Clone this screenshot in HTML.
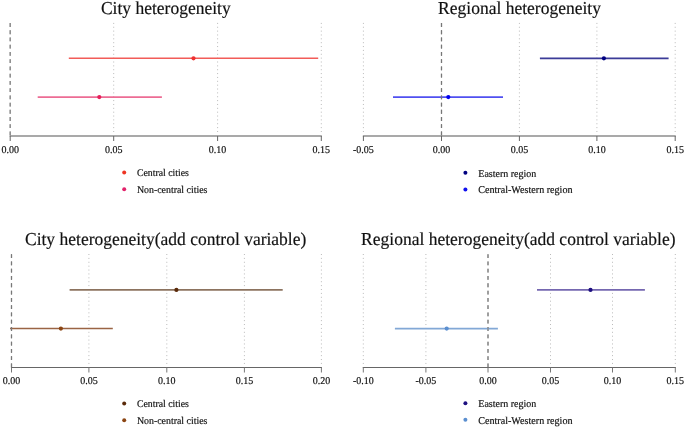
<!DOCTYPE html>
<html><head><meta charset="utf-8"><style>
html,body{margin:0;padding:0;background:#fff;}
svg{display:block;font-family:"Liberation Serif", serif;will-change:transform;text-rendering:geometricPrecision;}
text{fill:#111;stroke:#111;stroke-width:0.18px;}
</style></head><body>
<svg width="685" height="428" viewBox="0 0 685 428">
<rect width="685" height="428" fill="#fff"/>
<line x1="113.7" y1="22.9" x2="113.7" y2="134.5" stroke="#bababa" stroke-width="1" stroke-dasharray="1 2.86"/>
<line x1="217.6" y1="22.9" x2="217.6" y2="134.5" stroke="#bababa" stroke-width="1" stroke-dasharray="1 2.86"/>
<line x1="321.3" y1="22.9" x2="321.3" y2="134.5" stroke="#bababa" stroke-width="1" stroke-dasharray="1 2.86"/>
<line x1="10.2" y1="23.1" x2="10.2" y2="136.0" stroke="#8c8c8c" stroke-width="1.15" stroke-dasharray="3.8 3.43"/>
<line x1="68.8" y1="58.3" x2="318.2" y2="58.3" stroke="#f25c58" stroke-width="1.6"/>
<line x1="37.7" y1="97.1" x2="161.9" y2="97.1" stroke="#ec6c94" stroke-width="1.6"/>
<line x1="10.2" y1="23.1" x2="10.2" y2="136.0" stroke="#8c8c8c" stroke-width="1.15" stroke-dasharray="3.8 3.43"/>
<circle cx="193.5" cy="58.3" r="2.1" fill="#ee3030"/>
<circle cx="99.3" cy="97.1" r="2.1" fill="#e6205a"/>
<line x1="10.2" y1="136.0" x2="321.3" y2="136.0" stroke="#555" stroke-width="1.1" stroke-linecap="square"/>
<line x1="10.2" y1="136.0" x2="10.2" y2="141.0" stroke="#666" stroke-width="1"/>
<text transform="translate(10.2 152.6) scale(1 1.04)" text-anchor="middle" font-size="10">0.00</text>
<line x1="113.7" y1="136.0" x2="113.7" y2="141.0" stroke="#666" stroke-width="1"/>
<text transform="translate(113.7 152.6) scale(1 1.04)" text-anchor="middle" font-size="10">0.05</text>
<line x1="217.6" y1="136.0" x2="217.6" y2="141.0" stroke="#666" stroke-width="1"/>
<text transform="translate(217.6 152.6) scale(1 1.04)" text-anchor="middle" font-size="10">0.10</text>
<line x1="321.3" y1="136.0" x2="321.3" y2="141.0" stroke="#666" stroke-width="1"/>
<text transform="translate(321.3 152.6) scale(1 1.04)" text-anchor="middle" font-size="10">0.15</text>
<text transform="translate(165.8 14.3) scale(1 1.04)" text-anchor="middle" font-size="17.5">City heterogeneity</text>
<circle cx="124.2" cy="172.4" r="2.0" fill="#ee3322"/>
<text transform="translate(136.9 176.40) scale(1 1.04)" font-size="9.8">Central cities</text>
<circle cx="124.2" cy="189.2" r="2.0" fill="#e2226a"/>
<text transform="translate(136.9 193.20) scale(1 1.04)" font-size="9.9">Non-central cities</text>
<line x1="363.4" y1="22.9" x2="363.4" y2="134.5" stroke="#bababa" stroke-width="1" stroke-dasharray="1 2.86"/>
<line x1="519.4" y1="22.9" x2="519.4" y2="134.5" stroke="#bababa" stroke-width="1" stroke-dasharray="1 2.86"/>
<line x1="596.9" y1="22.9" x2="596.9" y2="134.5" stroke="#bababa" stroke-width="1" stroke-dasharray="1 2.86"/>
<line x1="675.2" y1="22.9" x2="675.2" y2="134.5" stroke="#bababa" stroke-width="1" stroke-dasharray="1 2.86"/>
<line x1="441.5" y1="23.1" x2="441.5" y2="136.0" stroke="#767676" stroke-width="1.15" stroke-dasharray="3.8 3.43"/>
<line x1="539.9" y1="58.3" x2="668.6" y2="58.3" stroke="#3b3b98" stroke-width="1.7"/>
<line x1="393.0" y1="97.1" x2="503.0" y2="97.1" stroke="#5050f0" stroke-width="1.7"/>
<line x1="441.5" y1="23.1" x2="441.5" y2="136.0" stroke="#767676" stroke-width="1.15" stroke-dasharray="3.8 3.43"/>
<circle cx="603.9" cy="58.3" r="2.1" fill="#000080"/>
<circle cx="448.3" cy="97.1" r="2.1" fill="#0000ee"/>
<line x1="363.4" y1="136.0" x2="675.2" y2="136.0" stroke="#555" stroke-width="1.1" stroke-linecap="square"/>
<line x1="363.4" y1="136.0" x2="363.4" y2="141.0" stroke="#666" stroke-width="1"/>
<text transform="translate(363.4 152.6) scale(1 1.04)" text-anchor="middle" font-size="10">-0.05</text>
<line x1="441.5" y1="136.0" x2="441.5" y2="141.0" stroke="#666" stroke-width="1"/>
<text transform="translate(441.5 152.6) scale(1 1.04)" text-anchor="middle" font-size="10">0.00</text>
<line x1="519.4" y1="136.0" x2="519.4" y2="141.0" stroke="#666" stroke-width="1"/>
<text transform="translate(519.4 152.6) scale(1 1.04)" text-anchor="middle" font-size="10">0.05</text>
<line x1="596.9" y1="136.0" x2="596.9" y2="141.0" stroke="#666" stroke-width="1"/>
<text transform="translate(596.9 152.6) scale(1 1.04)" text-anchor="middle" font-size="10">0.10</text>
<line x1="675.2" y1="136.0" x2="675.2" y2="141.0" stroke="#666" stroke-width="1"/>
<text transform="translate(675.2 152.6) scale(1 1.04)" text-anchor="middle" font-size="10">0.15</text>
<text transform="translate(519.5 14.3) scale(1 1.04)" text-anchor="middle" font-size="17.5">Regional heterogeneity</text>
<circle cx="465.4" cy="172.7" r="2.0" fill="#000080"/>
<text transform="translate(478.3 176.70) scale(1 1.04)" font-size="10">Eastern region</text>
<circle cx="465.4" cy="189.4" r="2.0" fill="#1010ee"/>
<text transform="translate(478.3 193.40) scale(1 1.04)" font-size="10.1">Central-Western region</text>
<line x1="88.9" y1="254.0" x2="88.9" y2="366.0" stroke="#bababa" stroke-width="1" stroke-dasharray="1 2.89"/>
<line x1="166.8" y1="254.0" x2="166.8" y2="366.0" stroke="#bababa" stroke-width="1" stroke-dasharray="1 2.89"/>
<line x1="244.4" y1="254.0" x2="244.4" y2="366.0" stroke="#bababa" stroke-width="1" stroke-dasharray="1 2.89"/>
<line x1="321.4" y1="254.0" x2="321.4" y2="366.0" stroke="#bababa" stroke-width="1" stroke-dasharray="1 2.89"/>
<line x1="11.5" y1="254.2" x2="11.5" y2="367.5" stroke="#787878" stroke-width="1.15" stroke-dasharray="3.8 3.49"/>
<line x1="69.6" y1="289.9" x2="282.7" y2="289.9" stroke="#8c735f" stroke-width="1.7"/>
<line x1="10.05" y1="328.6" x2="112.8" y2="328.6" stroke="#9a6444" stroke-width="1.5"/>
<line x1="11.5" y1="254.2" x2="11.5" y2="367.5" stroke="#787878" stroke-width="1.15" stroke-dasharray="3.8 3.49"/>
<circle cx="176.4" cy="289.9" r="2.1" fill="#5a2a0a"/>
<circle cx="60.9" cy="328.6" r="2.1" fill="#8b4513"/>
<line x1="11.5" y1="367.5" x2="321.4" y2="367.5" stroke="#666" stroke-width="1.1" stroke-linecap="square"/>
<line x1="11.5" y1="367.5" x2="11.5" y2="372.5" stroke="#777" stroke-width="1"/>
<text transform="translate(11.5 384) scale(1 1.04)" text-anchor="middle" font-size="10">0.00</text>
<line x1="88.9" y1="367.5" x2="88.9" y2="372.5" stroke="#777" stroke-width="1"/>
<text transform="translate(88.9 384) scale(1 1.04)" text-anchor="middle" font-size="10">0.05</text>
<line x1="166.8" y1="367.5" x2="166.8" y2="372.5" stroke="#777" stroke-width="1"/>
<text transform="translate(166.8 384) scale(1 1.04)" text-anchor="middle" font-size="10">0.10</text>
<line x1="244.4" y1="367.5" x2="244.4" y2="372.5" stroke="#777" stroke-width="1"/>
<text transform="translate(244.4 384) scale(1 1.04)" text-anchor="middle" font-size="10">0.15</text>
<line x1="321.4" y1="367.5" x2="321.4" y2="372.5" stroke="#777" stroke-width="1"/>
<text transform="translate(321.4 384) scale(1 1.04)" text-anchor="middle" font-size="10">0.20</text>
<text transform="translate(165.65 245.2) scale(1 1.04)" text-anchor="middle" font-size="17.5">City heterogeneity(add control variable)</text>
<circle cx="124.2" cy="403.4" r="2.0" fill="#5a2a0a"/>
<text transform="translate(136.9 407.40) scale(1 1.04)" font-size="9.8">Central cities</text>
<circle cx="124.2" cy="420.2" r="2.0" fill="#8b4513"/>
<text transform="translate(136.9 424.20) scale(1 1.04)" font-size="9.9">Non-central cities</text>
<line x1="363.3" y1="254.0" x2="363.3" y2="366.0" stroke="#bababa" stroke-width="1" stroke-dasharray="1 2.89"/>
<line x1="425.9" y1="254.0" x2="425.9" y2="366.0" stroke="#bababa" stroke-width="1" stroke-dasharray="1 2.89"/>
<line x1="550.5" y1="254.0" x2="550.5" y2="366.0" stroke="#bababa" stroke-width="1" stroke-dasharray="1 2.89"/>
<line x1="612.5" y1="254.0" x2="612.5" y2="366.0" stroke="#bababa" stroke-width="1" stroke-dasharray="1 2.89"/>
<line x1="675.3" y1="254.0" x2="675.3" y2="366.0" stroke="#bababa" stroke-width="1" stroke-dasharray="1 2.89"/>
<line x1="488.0" y1="254.2" x2="488.0" y2="367.5" stroke="#8a8a8a" stroke-width="1.15" stroke-dasharray="3.8 3.49"/>
<line x1="537.0" y1="289.9" x2="644.9" y2="289.9" stroke="#7567b0" stroke-width="1.7"/>
<line x1="394.9" y1="328.6" x2="497.9" y2="328.6" stroke="#82a8d6" stroke-width="1.7"/>
<line x1="488.0" y1="254.2" x2="488.0" y2="367.5" stroke="#8a8a8a" stroke-width="1.15" stroke-dasharray="3.8 3.49"/>
<circle cx="590.5" cy="289.9" r="2.1" fill="#1e1080"/>
<circle cx="446.7" cy="328.6" r="2.1" fill="#5b8fd0"/>
<line x1="363.3" y1="367.5" x2="675.3" y2="367.5" stroke="#666" stroke-width="1.1" stroke-linecap="square"/>
<line x1="363.3" y1="367.5" x2="363.3" y2="372.5" stroke="#777" stroke-width="1"/>
<text transform="translate(363.3 384) scale(1 1.04)" text-anchor="middle" font-size="10">-0.10</text>
<line x1="425.9" y1="367.5" x2="425.9" y2="372.5" stroke="#777" stroke-width="1"/>
<text transform="translate(425.9 384) scale(1 1.04)" text-anchor="middle" font-size="10">-0.05</text>
<line x1="488.0" y1="367.5" x2="488.0" y2="372.5" stroke="#777" stroke-width="1"/>
<text transform="translate(488.0 384) scale(1 1.04)" text-anchor="middle" font-size="10">0.00</text>
<line x1="550.5" y1="367.5" x2="550.5" y2="372.5" stroke="#777" stroke-width="1"/>
<text transform="translate(550.5 384) scale(1 1.04)" text-anchor="middle" font-size="10">0.05</text>
<line x1="612.5" y1="367.5" x2="612.5" y2="372.5" stroke="#777" stroke-width="1"/>
<text transform="translate(612.5 384) scale(1 1.04)" text-anchor="middle" font-size="10">0.10</text>
<line x1="675.3" y1="367.5" x2="675.3" y2="372.5" stroke="#777" stroke-width="1"/>
<text transform="translate(675.3 384) scale(1 1.04)" text-anchor="middle" font-size="10">0.15</text>
<text transform="translate(518.3 245.2) scale(1 1.04)" text-anchor="middle" font-size="17.5">Regional heterogeneity(add control variable)</text>
<circle cx="465.4" cy="403.3" r="2.0" fill="#1e1080"/>
<text transform="translate(478.3 407.30) scale(1 1.04)" font-size="10">Eastern region</text>
<circle cx="465.4" cy="419.8" r="2.0" fill="#5b8fd0"/>
<text transform="translate(478.3 423.80) scale(1 1.04)" font-size="10.1">Central-Western region</text>
</svg>
</body></html>
